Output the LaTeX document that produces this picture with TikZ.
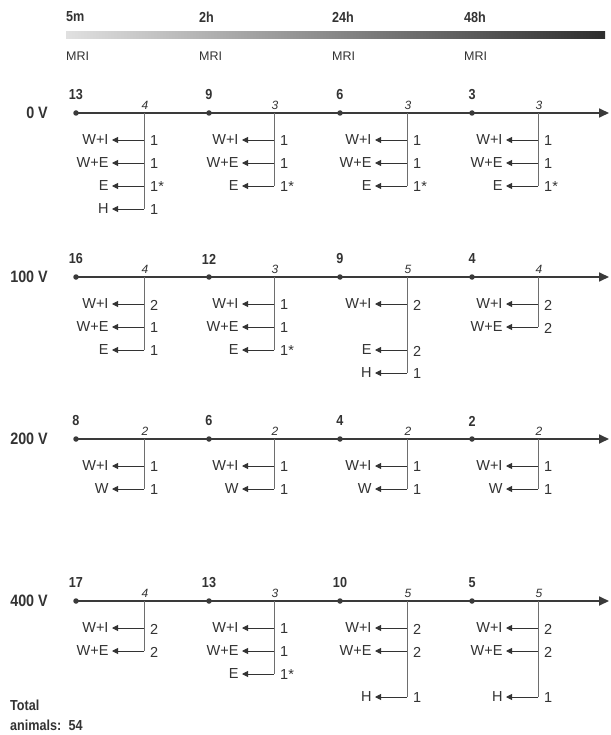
\documentclass[tikz,border=0pt]{standalone}
\usepackage{fontspec}
\setmainfont{Liberation Sans}
\newfontfamily\condbold[FakeStretch=0.87]{Liberation Sans Bold}
\usetikzlibrary{arrows.meta}
\definecolor{txt}{HTML}{333333}
\definecolor{axc}{HTML}{3A3A3A}
\definecolor{brc}{HTML}{6E6E6E}
\tikzset{
  volt/.style={font=\condbold\fontsize{16.5}{18}\selectfont, text=txt, anchor=east, inner sep=0pt},
  timelbl/.style={font=\condbold\fontsize{14.5}{16}\selectfont, text=txt, anchor=west, inner sep=0pt},
  mri/.style={font=\fontsize{12.5}{14}\selectfont, text=txt, anchor=west, inner sep=0pt},
  count/.style={font=\condbold\fontsize{14.5}{16}\selectfont, text=txt, inner sep=0pt},
  tally/.style={font=\itshape\fontsize{12}{14}\selectfont, text=txt, inner sep=0pt},
  lbl/.style={font=\fontsize{14.5}{16}\selectfont, text=txt, anchor=east, inner sep=0pt, outer sep=3.5pt},
  numlbl/.style={font=\fontsize{14.5}{16}\selectfont, text=txt, anchor=west, inner sep=0pt},
  dotnode/.style={circle, fill=axc, minimum size=5.5pt, inner sep=0pt},
  axisline/.style={draw=axc, line width=1.7pt, -{Triangle[length=10pt,width=9pt]}},
  branchline/.style={draw=brc, line width=0.9pt},
  barrow/.style={draw=brc, line width=0.9pt, -{Triangle[length=6pt,width=6pt]}, color=txt},
}
% #1 row id, #2 col id, #3 axis y, #4 dot x, #5 branch x, #6 count, #7 tally, #8 last row, #9 items
\newcommand\tcol[9]{%
  \node[dotnode] (D#1#2) at (#4,#3) {};
  \node[count] (N#1#2) at (#4,#3-18) {#6};
  \coordinate (B#1#2) at (#5,#3);
  \node[tally] (T#1#2) at (#5+1,#3-8) {#7};
  \coordinate (K#1#2) at (#5,#3+4+23*#8);
  \draw[branchline] (B#1#2) -- (K#1#2);
  \foreach \k/\l/\n in {#9} {
    \coordinate (P#1#2\k) at (#5,#3+4+23*\k);
    \node[lbl] (L#1#2\k) at (#5-32,#3+4+23*\k) {\l};
    \node[numlbl] (M#1#2\k) at (#5+6,#3+5+23*\k) {\n};
    \draw[barrow] (P#1#2\k) -- (L#1#2\k.east);
  }
}
\begin{document}
\begin{tikzpicture}[x=1pt,y=-1pt]
\useasboundingbox[fill=white] (0,0) rectangle (610,735);
% time bar
\shade[left color=black!12, right color=black!82] (66,32) rectangle (605,39);
\node[timelbl] (t1) at (66,17) {5m};
\node[timelbl] (t2) at (199,17) {2h};
\node[timelbl] (t3) at (332,17) {24h};
\node[timelbl] (t4) at (464,17) {48h};
\node[mri] (m1) at (66,56) {MRI};
\node[mri] (m2) at (199,56) {MRI};
\node[mri] (m3) at (332,56) {MRI};
\node[mri] (m4) at (464,56) {MRI};
% rows
\foreach \r/\lab/\y in {a/0 V/113, b/100 V/277, c/200 V/439, d/400 V/601} {
  \node[volt] (V\r) at (48,\y) {\lab};
  \coordinate (S\r) at (76,\y);
  \coordinate (E\r) at (609,\y);
  \draw[axisline] (S\r) -- (E\r);
}
% 0 V
\tcol{a}{1}{113}{76}{144}{13}{4}{4}{1/W+I/1, 2/W+E/1, 3/E/1*, 4/H/1}
\tcol{a}{2}{113}{209}{274}{9}{3}{3}{1/W+I/1, 2/W+E/1, 3/E/1*}
\tcol{a}{3}{113}{340}{407}{6}{3}{3}{1/W+I/1, 2/W+E/1, 3/E/1*}
\tcol{a}{4}{113}{472}{538}{3}{3}{3}{1/W+I/1, 2/W+E/1, 3/E/1*}
% 100 V
\tcol{b}{1}{277}{76}{144}{16}{4}{3}{1/W+I/2, 2/W+E/1, 3/E/1}
\tcol{b}{2}{277}{209}{274}{12}{3}{3}{1/W+I/1, 2/W+E/1, 3/E/1*}
\tcol{b}{3}{277}{340}{407}{9}{5}{4}{1/W+I/2, 3/E/2, 4/H/1}
\tcol{b}{4}{277}{472}{538}{4}{4}{2}{1/W+I/2, 2/W+E/2}
% 200 V
\tcol{c}{1}{439}{76}{144}{8}{2}{2}{1/W+I/1, 2/W/1}
\tcol{c}{2}{439}{209}{274}{6}{2}{2}{1/W+I/1, 2/W/1}
\tcol{c}{3}{439}{340}{407}{4}{2}{2}{1/W+I/1, 2/W/1}
\tcol{c}{4}{439}{472}{538}{2}{2}{2}{1/W+I/1, 2/W/1}
% 400 V
\tcol{d}{1}{601}{76}{144}{17}{4}{2}{1/W+I/2, 2/W+E/2}
\tcol{d}{2}{601}{209}{274}{13}{3}{3}{1/W+I/1, 2/W+E/1, 3/E/1*}
\tcol{d}{3}{601}{340}{407}{10}{5}{4}{1/W+I/2, 2/W+E/2, 4/H/1}
\tcol{d}{4}{601}{472}{538}{5}{5}{4}{1/W+I/2, 2/W+E/2, 4/H/1}
% total
\node[font=\condbold\fontsize{14.5}{20}\selectfont, text=txt, anchor=north west, align=left, inner sep=0pt] (tot) at (10,700) {Total\\animals:\enspace 54};
\end{tikzpicture}
\end{document}
